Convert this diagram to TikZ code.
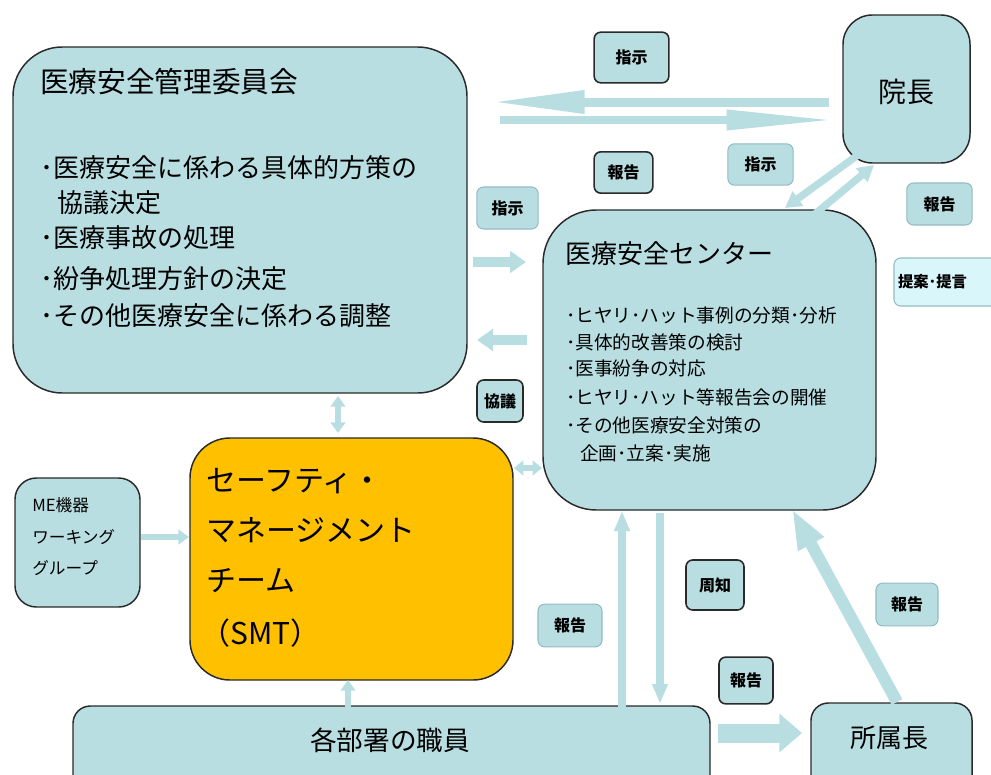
\documentclass[tikz,border=0pt]{standalone}
\usepackage{fontspec}
\setmainfont{Noto Sans CJK JP}
\usetikzlibrary{arrows.meta,fit}
\definecolor{boxc}{HTML}{B8DEE2}
\definecolor{arrc}{HTML}{B8DEE2}
\definecolor{bordc}{HTML}{2A2A2A}
\definecolor{lblb}{HTML}{93BCC2}
\definecolor{propc}{HTML}{D9F7FB}
\definecolor{smtc}{HTML}{FFC000}
\begin{document}
\begin{tikzpicture}[x=0.75pt,y=-0.75pt,
  box/.style={draw=bordc, line width=1.1pt, fill=boxc, inner sep=0pt, rounded corners=#1},
  lblk/.style={draw=bordc, line width=1.2pt, fill=boxc, rounded corners=5pt, inner sep=0pt, font=\fontsize{12}{14}\selectfont\bfseries},
  lbll/.style={draw=lblb, line width=0.8pt, fill=boxc, rounded corners=5pt, inner sep=0pt, font=\fontsize{12}{14}\selectfont\bfseries},
  arr/.style={draw=arrc, line width=#1},
  txt/.style={inner sep=0pt, anchor=base west},
  big/.style={font=\fontsize{21.5}{26}\selectfont},
  mid/.style={font=\fontsize{19.5}{24}\selectfont},
  sml/.style={font=\fontsize{14}{16}\selectfont},
  tiny/.style={font=\fontsize{12.5}{15}\selectfont}
]
\useasboundingbox (0,0) rectangle (991,774);
\fill[white] (0,0) rectangle (991,774);
\clip (0,0) rectangle (991,774);

% main boxes
\node[box=37pt, fit={(13,47) (467,393)}] (cmte) {};
\node[box=22pt, fit={(843,15) (970,163)}] (inchou) {};
\node[box=40pt, fit={(543,210) (876,510)}] (ctr) {};
\node[box=30pt, fill=smtc, fit={(190,438) (513,680)}] (smt) {};
\node[box=16pt, fit={(15,478) (140,607)}] (me) {};
\node[box=13pt, fit={(73,706) (710,800)}] (staff) {};
\node[box=13pt, fit={(811,703) (972,800)}] (head) {};

% committee text
\node[txt, big] (ct0) at (40,93) {医療安全管理委員会};
\node[txt, mid] (ct1) at (40,177) {･医療安全に係わる具体的方策の};
\node[txt, mid] (ct2) at (57,212) {協議決定};
\node[txt, mid] (ct3) at (40,247) {･医療事故の処理};
\node[txt, mid] (ct4) at (40,288) {･紛争処理方針の決定};
\node[txt, mid] (ct5) at (40,325) {･その他医療安全に係わる調整};

% center text
\node[txt, mid] (cc0) at (565,263) {医療安全センター};
\node[txt, sml] (cc1) at (566,322) {･ヒヤリ･ハット事例の分類･分析};
\node[txt, sml] (cc2) at (566,349) {･具体的改善策の検討};
\node[txt, sml] (cc3) at (566,375) {･医事紛争の対応};
\node[txt, sml] (cc4) at (566,404) {･ヒヤリ･ハット等報告会の開催};
\node[txt, sml] (cc5) at (566,432) {･その他医療安全対策の};
\node[txt, sml] (cc6) at (580,460) {企画･立案･実施};

% SMT text
\node[txt, font=\fontsize{22.5}{26}\selectfont] (st1) at (206,491) {セーフティ・};
\node[txt, font=\fontsize{22.5}{26}\selectfont] (st2) at (206,541) {マネージメント};
\node[txt, font=\fontsize{22.5}{26}\selectfont] (st3) at (206,591) {チーム};
\node[txt, font=\fontsize{22.5}{26}\selectfont] (st4) at (200,644) {（SMT）};

% ME text
\node[txt, tiny] (me1) at (32,511) {ME機器};
\node[txt, tiny] (me2) at (32,543) {ワーキング};
\node[txt, tiny] (me3) at (32,574) {グループ};

% other box text
\node[inner sep=0pt, font=\fontsize{21}{24}\selectfont] (inchoutxt) at (906,92) {院長};
\node[inner sep=0pt, font=\fontsize{20}{24}\selectfont] (stafftxt) at (390,740) {各部署の職員};
\node[inner sep=0pt, font=\fontsize{19.5}{24}\selectfont] (headtxt) at (889,738) {所属長};

% arrows
\coordinate (a1s) at (829,102); \coordinate (a1e) at (490,102);
\draw[arr=6.75pt, -{Triangle[length=71pt,width=16pt]}] (a1s) -- (a1e);
\coordinate (a2s) at (500,120); \coordinate (a2e) at (836,120);
\draw[arr=6pt, -{Triangle[length=82pt,width=14pt]}] (a2s) -- (a2e);
\coordinate (a3s) at (862,152); \coordinate (a3e) at (785,208);
\draw[arr=5.5pt, -{Triangle[length=12pt,width=13pt]}] (a3s) -- (a3e);
\coordinate (a4s) at (815,214); \coordinate (a4e) at (874,165);
\draw[arr=5.5pt, -{Triangle[length=12pt,width=13pt]}] (a4s) -- (a4e);
\coordinate (a5s) at (473,262); \coordinate (a5e) at (526,262);
\draw[arr=7pt, -{Triangle[length=12pt,width=16pt]}] (a5s) -- (a5e);
\coordinate (a6s) at (527,340); \coordinate (a6e) at (477,340);
\draw[arr=7pt, -{Triangle[length=12pt,width=16pt]}] (a6s) -- (a6e);
\coordinate (a7s) at (338,396); \coordinate (a7e) at (338,433);
\draw[arr=4.5pt, {Triangle[length=8pt,width=11pt]}-{Triangle[length=8pt,width=11pt]}] (a7s) -- (a7e);
\coordinate (a8s) at (514,468); \coordinate (a8e) at (542,468);
\draw[arr=4.5pt, {Triangle[length=7pt,width=11pt]}-{Triangle[length=7pt,width=11pt]}] (a8s) -- (a8e);
\coordinate (a9s) at (141,537); \coordinate (a9e) at (189,537);
\draw[arr=4.5pt, -{Triangle[length=8pt,width=11pt]}] (a9s) -- (a9e);
\coordinate (a10s) at (348,708); \coordinate (a10e) at (348,680);
\draw[arr=5pt, -{Triangle[length=8pt,width=11pt]}] (a10s) -- (a10e);
\coordinate (a11s) at (622,708); \coordinate (a11e) at (622,511);
\draw[arr=6pt, -{Triangle[length=15pt,width=11pt]}] (a11s) -- (a11e);
\coordinate (a12s) at (660,513); \coordinate (a12e) at (660,704);
\draw[arr=6pt, -{Triangle[length=15pt,width=11pt]}] (a12s) -- (a12e);
\coordinate (a13s) at (718,733); \coordinate (a13e) at (802,733);
\draw[arr=14.25pt, -{Triangle[length=17pt,width=28pt]}] (a13s) -- (a13e);
\coordinate (a14s) at (897,702); \coordinate (a14e) at (792,509);
\draw[arr=9pt, -{Triangle[length=30pt,width=20pt]}] (a14s) -- (a14e);

% labels
\node[lblk, minimum width=56pt, minimum height=38pt] (l1) at (631.5,57.5) {指示};
\node[lblk, minimum width=44pt, minimum height=31pt] (l2) at (623.5,172.5) {報告};
\node[lbll, minimum width=49pt, minimum height=31pt] (l3) at (760.5,164.5) {指示};
\node[lbll, minimum width=49pt, minimum height=31.5pt] (l4) at (939.5,204) {報告};
\node[lbll, minimum width=46pt, minimum height=31.5pt] (l5) at (507.5,208) {指示};
\node[lbll, fill=propc, minimum width=78pt, minimum height=36pt, text width=76pt, align=left, font=\fontsize{11.5}{14}\selectfont\bfseries] (l6) at (946,282) {\hspace*{2pt}提案･提言};
\node[lblk, minimum width=34.5pt, minimum height=31.5pt] (l7) at (500,401) {協議};
\node[lblk, minimum width=43.5pt, minimum height=37.5pt] (l8) at (715,585) {周知};
\node[lbll, minimum width=48pt, minimum height=32pt] (l9) at (570,625.5) {報告};
\node[lblk, minimum width=40.5pt, minimum height=35pt] (l10) at (746,680.5) {報告};
\node[lbll, minimum width=46.5pt, minimum height=32pt] (l11) at (907,604.5) {報告};
\end{tikzpicture}
\end{document}
